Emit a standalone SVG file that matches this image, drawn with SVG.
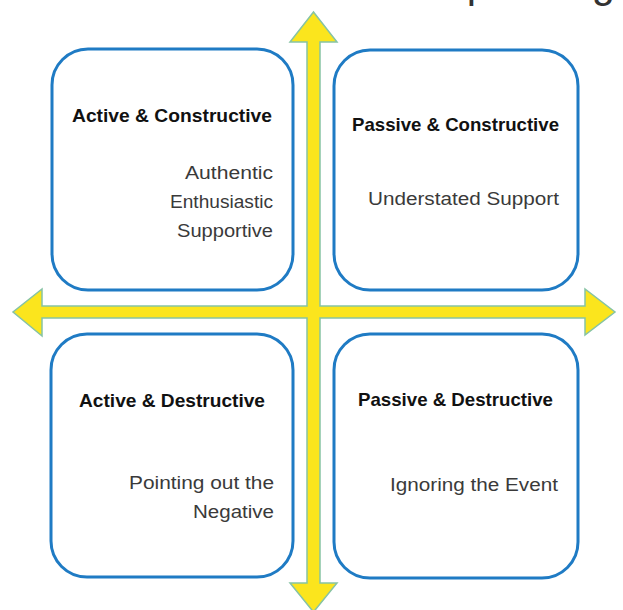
<svg xmlns="http://www.w3.org/2000/svg" width="623" height="610" viewBox="0 0 623 610">
  <style>
    .box { fill: #ffffff; stroke: #1f7bc4; stroke-width: 3; }
    .title { font-family: "Liberation Sans", Arial, sans-serif; font-weight: bold; font-size: 18.5px; fill: #111111; }
    .body { font-family: "Liberation Sans", Arial, sans-serif; font-size: 17.5px; fill: #3a3a3a; }
    .head { font-family: "Liberation Sans", Arial, sans-serif; font-size: 42px; fill: #333333; }
    .axis { fill: #fbe51d; stroke: #86c3a4; stroke-width: 1.5; stroke-linejoin: miter; }
  </style>
  <rect width="623" height="610" fill="#ffffff"/>
  <text class="head" x="25" y="-3" textLength="590" lengthAdjust="spacingAndGlyphs">Active Constructive Responding</text>

  <g id="connectors">
    <polygon class="axis" points="313.5,12 337,42 320,42 320,306 585,306 585,289 615,312 585,335 585,318 320,318 320,583 337,583 313.5,612 290,583 307,583 307,318 42,318 42,336 13,312 42,289 42,306 307,306 307,42 290,42"/>
  </g>

  <g id="active-constructive">
    <rect class="box" x="52" y="49" width="241" height="241" rx="36"/>
    <text class="title" x="72" y="122" textLength="200" lengthAdjust="spacingAndGlyphs">Active &amp; Constructive</text>
    <text class="body" x="185" y="179" textLength="88" lengthAdjust="spacingAndGlyphs">Authentic</text>
    <text class="body" x="170" y="208" textLength="103" lengthAdjust="spacingAndGlyphs">Enthusiastic</text>
    <text class="body" x="177" y="237" textLength="96" lengthAdjust="spacingAndGlyphs">Supportive</text>
  </g>

  <g id="passive-constructive">
    <rect class="box" x="334" y="50" width="244" height="240" rx="36"/>
    <text class="title" x="352" y="131" textLength="207" lengthAdjust="spacingAndGlyphs">Passive &amp; Constructive</text>
    <text class="body" x="368" y="205" textLength="191" lengthAdjust="spacingAndGlyphs">Understated Support</text>
  </g>

  <g id="active-destructive">
    <rect class="box" x="51" y="334" width="242" height="243" rx="36"/>
    <text class="title" x="79" y="407" textLength="186" lengthAdjust="spacingAndGlyphs">Active &amp; Destructive</text>
    <text class="body" x="129" y="489" textLength="145" lengthAdjust="spacingAndGlyphs">Pointing out the</text>
    <text class="body" x="193" y="518" textLength="81" lengthAdjust="spacingAndGlyphs">Negative</text>
  </g>

  <g id="passive-destructive">
    <rect class="box" x="334" y="334" width="244" height="244" rx="36"/>
    <text class="title" x="358" y="406" textLength="195" lengthAdjust="spacingAndGlyphs">Passive &amp; Destructive</text>
    <text class="body" x="390" y="491" textLength="168" lengthAdjust="spacingAndGlyphs">Ignoring the Event</text>
  </g>
</svg>
